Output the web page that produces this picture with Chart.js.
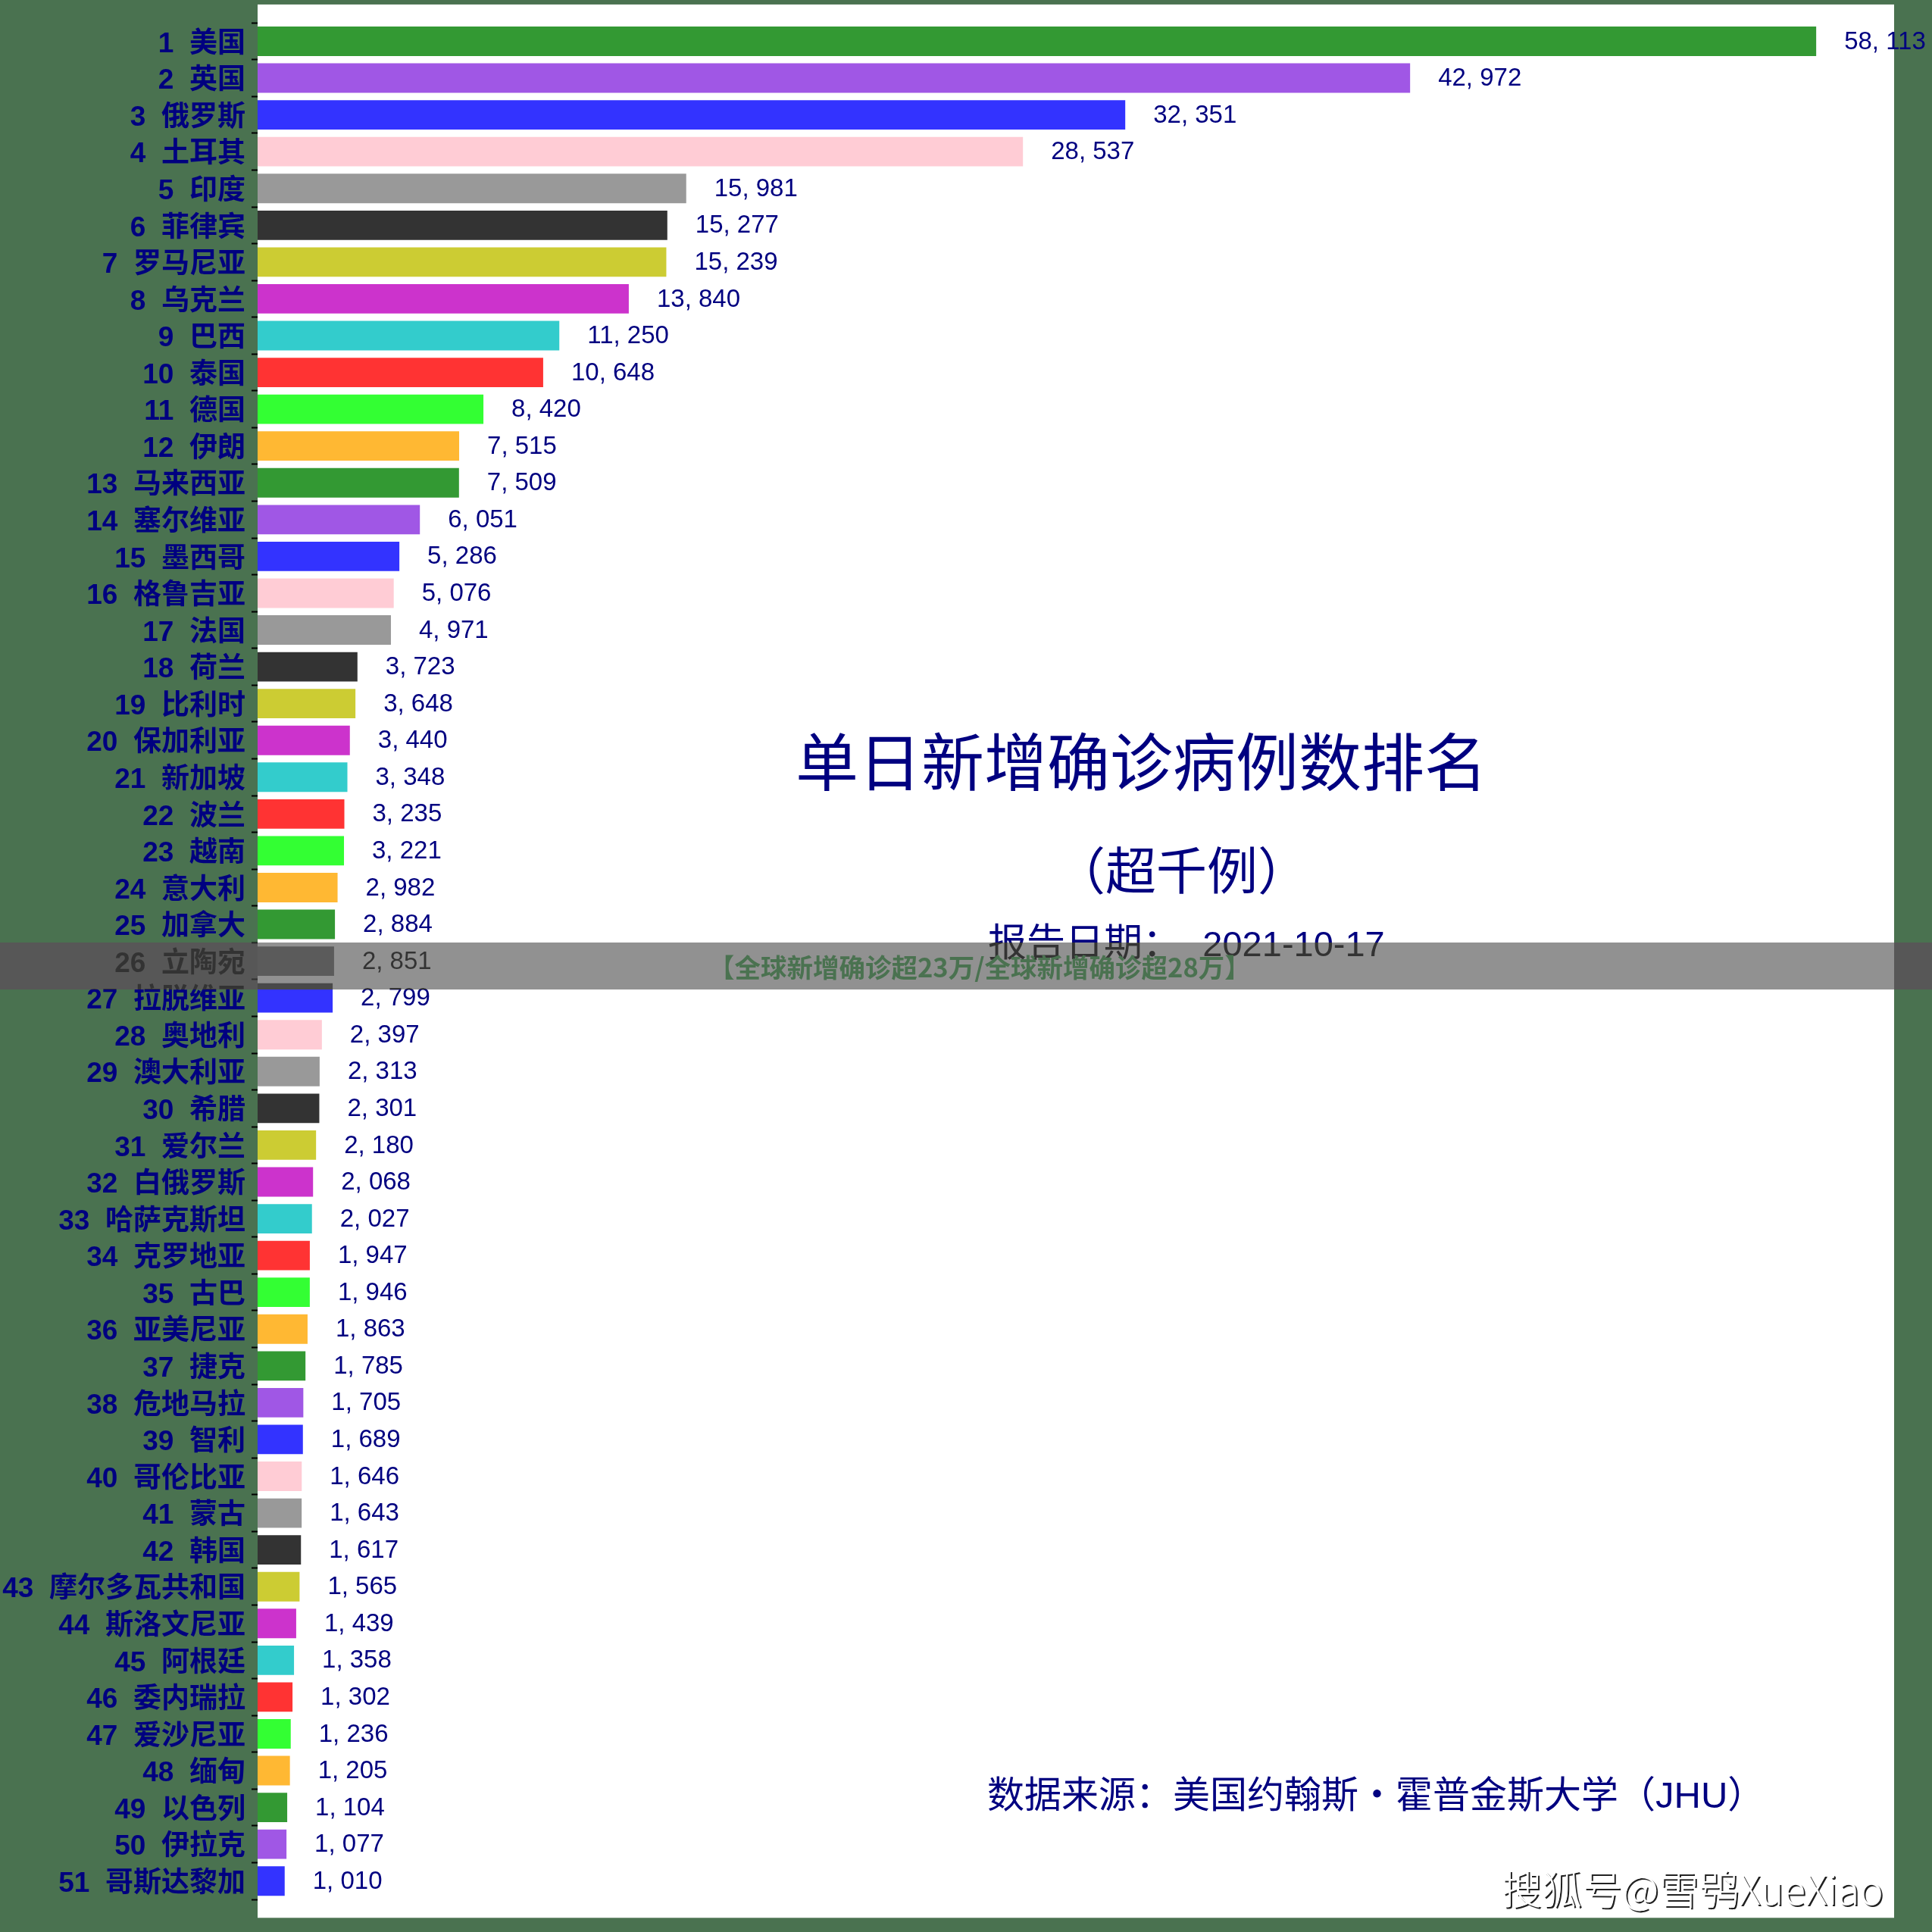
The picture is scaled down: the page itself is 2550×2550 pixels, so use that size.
<!DOCTYPE html>
<html>
<head>
<meta charset="utf-8">
<script src="https://cdn.jsdelivr.net/npm/chart.js@4"></script>
<style>
  html, body { margin: 0; padding: 0; background: #4a7250; }
  #wrap { position: relative; width: 2550px; height: 2550px; overflow: hidden; }
  #chart { position: absolute; left: 0; top: 0; }
  .txt { position: absolute; white-space: pre; line-height: 1; transform: translateY(-50%);
         font-family: "Liberation Sans", "Noto Sans CJK SC", sans-serif; color: #000080; }
  #title { left: 1050px; top: 1008px; font-size: 83px; }
  #sub { left: 1392px; top: 1150px; font-size: 67px; }
  #date { left: 1304px; top: 1244px; font-size: 51px; }
  #date span { font-size: 47px; }
  #source { left: 1303px; top: 2369px; font-size: 49px; }
  #banner { position: absolute; left: 0; top: 1244px; width: 2550px; height: 62px;
            -webkit-backdrop-filter: grayscale(1); backdrop-filter: grayscale(1);
            background: rgba(78, 78, 78, 0.62); }
  #bannerText { left: 935px; top: 1275px; font-size: 34.5px; font-weight: bold; color: #4a7250;
                font-family: "Noto Sans CJK SC", sans-serif; }
  #mark { left: 1982px; top: 2491px; font-size: 53px; color: #fff; font-weight: 300;
          font-family: "Noto Sans CJK SC", sans-serif; text-shadow: 2px 2px 0 #222; }
</style>
</head>
<body>
<div id="wrap">
  <canvas id="chart" width="2550" height="2550"></canvas>
  <div class="txt" id="title">单日新增确诊病例数排名</div>
  <div class="txt" id="sub">（超千例）</div>
  <div class="txt" id="date">报告日期：  <span>2021-10-17</span></div>
  <div class="txt" id="source">数据来源：美国约翰斯・霍普金斯大学（JHU）</div>
  <div id="banner"></div>
  <div class="txt" id="bannerText">【全球新增确诊超23万/全球新增确诊超28万】</div>
  <div class="txt" id="mark">搜狐号@雪鸮XueXiao</div>
</div>
<script>
(function () {
    'use strict';

    // countries, ranked
    const countries = [
        '美国', '英国', '俄罗斯', '土耳其', '印度', '菲律宾', '罗马尼亚', '乌克兰', '巴西', '泰国',
        '德国', '伊朗', '马来西亚', '塞尔维亚', '墨西哥', '格鲁吉亚', '法国', '荷兰', '比利时', '保加利亚',
        '新加坡', '波兰', '越南', '意大利', '加拿大', '立陶宛', '拉脱维亚', '奥地利', '澳大利亚', '希腊',
        '爱尔兰', '白俄罗斯', '哈萨克斯坦', '克罗地亚', '古巴', '亚美尼亚', '捷克', '危地马拉', '智利', '哥伦比亚',
        '蒙古', '韩国', '摩尔多瓦共和国', '斯洛文尼亚', '阿根廷', '委内瑞拉', '爱沙尼亚', '缅甸', '以色列', '伊拉克',
        '哥斯达黎加'
    ];

    // new confirmed cases, 2021-10-17
    const newCases = [
        58113, 42972, 32351, 28537, 15981, 15277, 15239, 13840, 11250, 10648,
        8420, 7515, 7509, 6051, 5286, 5076, 4971, 3723, 3648, 3440,
        3348, 3235, 3221, 2982, 2884, 2851, 2799, 2397, 2313, 2301,
        2180, 2068, 2027, 1947, 1946, 1863, 1785, 1705, 1689, 1646,
        1643, 1617, 1565, 1439, 1358, 1302, 1236, 1205, 1104, 1077,
        1010
    ];

    // colour cycle of the bars
    const palette = [
        '#339933', '#a057e5', '#3333ff', '#ffccd5', '#999999', '#333333',
        '#cccc33', '#cc33cc', '#33cccc', '#ff3333', '#33ff33', '#ffb833'
    ];

    const rankLabels = countries.map((name, i) => (i + 1) + '  ' + name);
    const barColors = newCases.map((v, i) => palette[i % palette.length]);
    const xMax = Math.max.apply(null, newCases) * 1.05;

    // white plot panel, half a row above and below the bars
    const panel = {
        id: 'panel',
        beforeDraw(chart) {
            const area = chart.chartArea;
            const y = chart.scales.y;
            const half = Math.abs(y.getPixelForValue(1) - y.getPixelForValue(0)) / 2;
            const c = chart.ctx;
            c.save();
            c.fillStyle = '#ffffff';
            c.fillRect(area.left, area.top - half, area.right - area.left, area.bottom - area.top + 2 * half);
            c.restore();
        }
    };

    // numbers at the end of each bar
    const valueLabels = {
        id: 'valueLabels',
        afterDatasetsDraw(chart) {
            const c = chart.ctx;
            const meta = chart.getDatasetMeta(0);
            c.save();
            c.font = '33px "Liberation Sans", "Noto Sans CJK SC", sans-serif';
            c.fillStyle = '#000080';
            c.textAlign = 'left';
            c.textBaseline = 'middle';
            meta.data.forEach((bar, i) => {
                const txt = newCases[i].toLocaleString('en-US').replace(',', ', ');
                c.fillText(txt, bar.x + 37, bar.y + 1);
            });
            c.restore();
        }
    };

    const ctx = document.getElementById('chart').getContext('2d');
    new Chart(ctx, {
        type: 'bar',
        data: {
            labels: rankLabels,
            datasets: [{
                data: newCases,
                backgroundColor: barColors,
                borderWidth: 0,
                barPercentage: 0.8,
                categoryPercentage: 1.0
            }]
        },
        options: {
            indexAxis: 'y',
            responsive: false,
            animation: false,
            devicePixelRatio: 1,
            layout: { padding: { left: 0, right: 50, top: 30, bottom: 43 } },
            plugins: {
                legend: { display: false },
                tooltip: { enabled: false }
            },
            scales: {
                x: { display: false, min: 0, max: xMax },
                y: {
                    offset: true,
                    border: { display: false },
                    grid: {
                        drawOnChartArea: false,
                        drawTicks: true,
                        tickLength: 8,
                        tickWidth: 2,
                        tickColor: '#000000'
                    },
                    ticks: {
                        autoSkip: false,
                        padding: 8,
                        labelOffset: 4,
                        color: '#000080',
                        font: { family: '"Liberation Sans", "Noto Sans CJK SC", sans-serif', size: 37, weight: 'bold' }
                    },
                    afterFit(scale) { scale.width = 340; }
                }
            }
        },
        plugins: [panel, valueLabels]
    });
})();
</script>
</body>
</html>
